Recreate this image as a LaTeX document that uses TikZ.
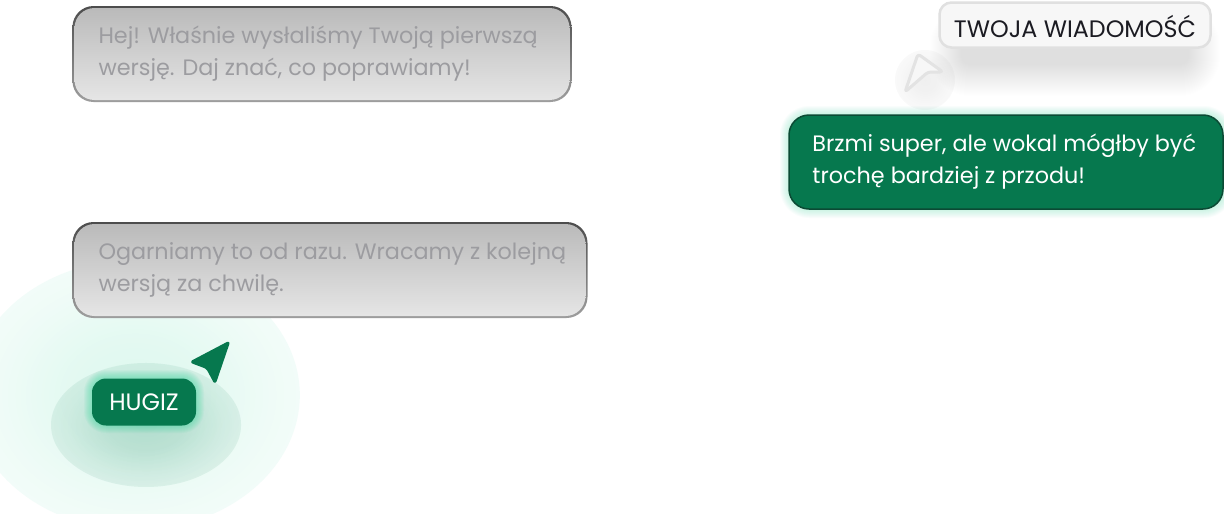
\documentclass[tikz,border=0pt]{standalone}
\usepackage{fontspec}
\setmainfont{Poppins}
\usetikzlibrary{positioning,fadings}
\definecolor{hugizgreen}{HTML}{06784E}
\definecolor{darkedge}{HTML}{0B4A34}
\definecolor{mint}{HTML}{2FD69A}
\definecolor{greytext}{HTML}{9C9CA0}
\definecolor{inktext}{HTML}{1B1B22}
\pgfdeclareradialshading{softshade}{\pgfpointorigin}{
  color(0bp)=(pgftransparent!72); color(10bp)=(pgftransparent!76);
  color(20bp)=(pgftransparent!86); color(35bp)=(pgftransparent!96);
  color(50bp)=(pgftransparent!100)}
\pgfdeclarefading{softglow}{\pgfuseshading{softshade}}

\begin{document}
\begin{tikzpicture}[
  x=1pt, y=-1pt,
  edgebox/.style={rounded corners=21pt, inner sep=0pt, top color=black!70, bottom color=black!38, minimum height=96pt},
  msgbox/.style={rounded corners=20pt, inner sep=0pt, top color=black!27, bottom color=black!10, minimum height=92pt},
  greenbox/.style={rounded corners=20pt, inner sep=0pt, fill=hugizgreen, draw=darkedge, line width=1.5pt, minimum height=94pt, minimum width=434pt},
  msgtext/.style={anchor=west, align=left, inner sep=0pt, font=\fontsize{22.3}{32}\selectfont},
  tagtext/.style={font=\fontsize{23.8}{26}\selectfont, inner sep=0pt},
  softblob/.style={path fading=softglow, fit fading=true}
]
  \useasboundingbox (0,0) rectangle (1224,514);
  \fill[white] (0,0) rectangle (1224,514);

  % glow behind the HUGIZ tag
  \fill[mint, softblob, fill opacity=.55] (135,395) ellipse (165 and 135);
  \fill[hugizgreen, softblob, fill opacity=.75] (146,425) ellipse (95 and 62);
  \foreach \r in {1,2,...,8}
    \fill[mint, fill opacity=.06, rounded corners={(14+\r)*1pt}] ({92-\r},{378-\r}) rectangle ({196+\r},{425+\r});

  % soft shadows on the right
  \foreach \r in {1,2,...,32}
    \fill[black, fill opacity=.0032, rounded corners={(8+\r)*1pt}] ({962-\r},{38-\r}) rectangle ({1188+\r},{64+\r});
  \foreach \r in {1,2,...,9}
    \fill[mint, fill opacity=.028, rounded corners={(20+\r)*1pt}] ({789-\r},{115-\r}) rectangle ({1224+\r},{209+\r});
  \fill[black, softblob, fill opacity=.22] (925,80) circle (30);

  % messages
  \node (firstedge) [edgebox, minimum width=499pt] at (322,54) {};
  \node (firstmsg) [msgbox, minimum width=495pt] at (firstedge.center) {};
  \node (firsttext) [msgtext, text=greytext, right=24pt of firstmsg.west, anchor=west]
    {Hej! Właśnie wysłaliśmy Twoją pierwszą\\wersję. Daj znać, co poprawiamy!};

  \node (secondedge) [edgebox, minimum width=515pt] at (330,270) {};
  \node (secondmsg) [msgbox, minimum width=511pt] at (secondedge.center) {};
  \node (secondtext) [msgtext, text=greytext, right=24pt of secondmsg.west, anchor=west]
    {Ogarniamy to od razu. Wracamy z kolejną\\wersją za chwilę.};

  \node (replymsg) [greenbox] at (1006,162) {};
  \node (replytext) [msgtext, text=white, right=24pt of replymsg.west, anchor=west]
    {Brzmi super, ale wokal mógłby być\\trochę bardziej z przodu!};

  % tags
  \node (youtag) [rounded corners=12pt, fill=white!97!black, draw=black!12, line width=2.5pt,
    minimum width=271pt, minimum height=45pt] at (1075,25) {};
  \node (youtext) [tagtext, text=inktext, yshift=-1pt] at (youtag.center) {TWOJA WIADOMOŚĆ};

  \node (hugiztag) [rounded corners=14pt, fill=hugizgreen, minimum width=104pt, minimum height=47pt, text=white,
    font=\fontsize{23.7}{26}\selectfont, inner sep=0pt] at (144,402) {HUGIZ};

  % pointers
  \draw[fill=white!97!black, draw=black!11, line width=3pt, line join=round, rounded corners=3pt]
    (918,54) -- (943,72) -- (928,72) -- (905,92) -- cycle;
  \fill[hugizgreen, draw=hugizgreen, line width=2pt, line join=round, rounded corners=2pt]
    (229,342) -- (191,362) -- (207,368) -- (215,383) -- cycle;
\end{tikzpicture}
\end{document}
